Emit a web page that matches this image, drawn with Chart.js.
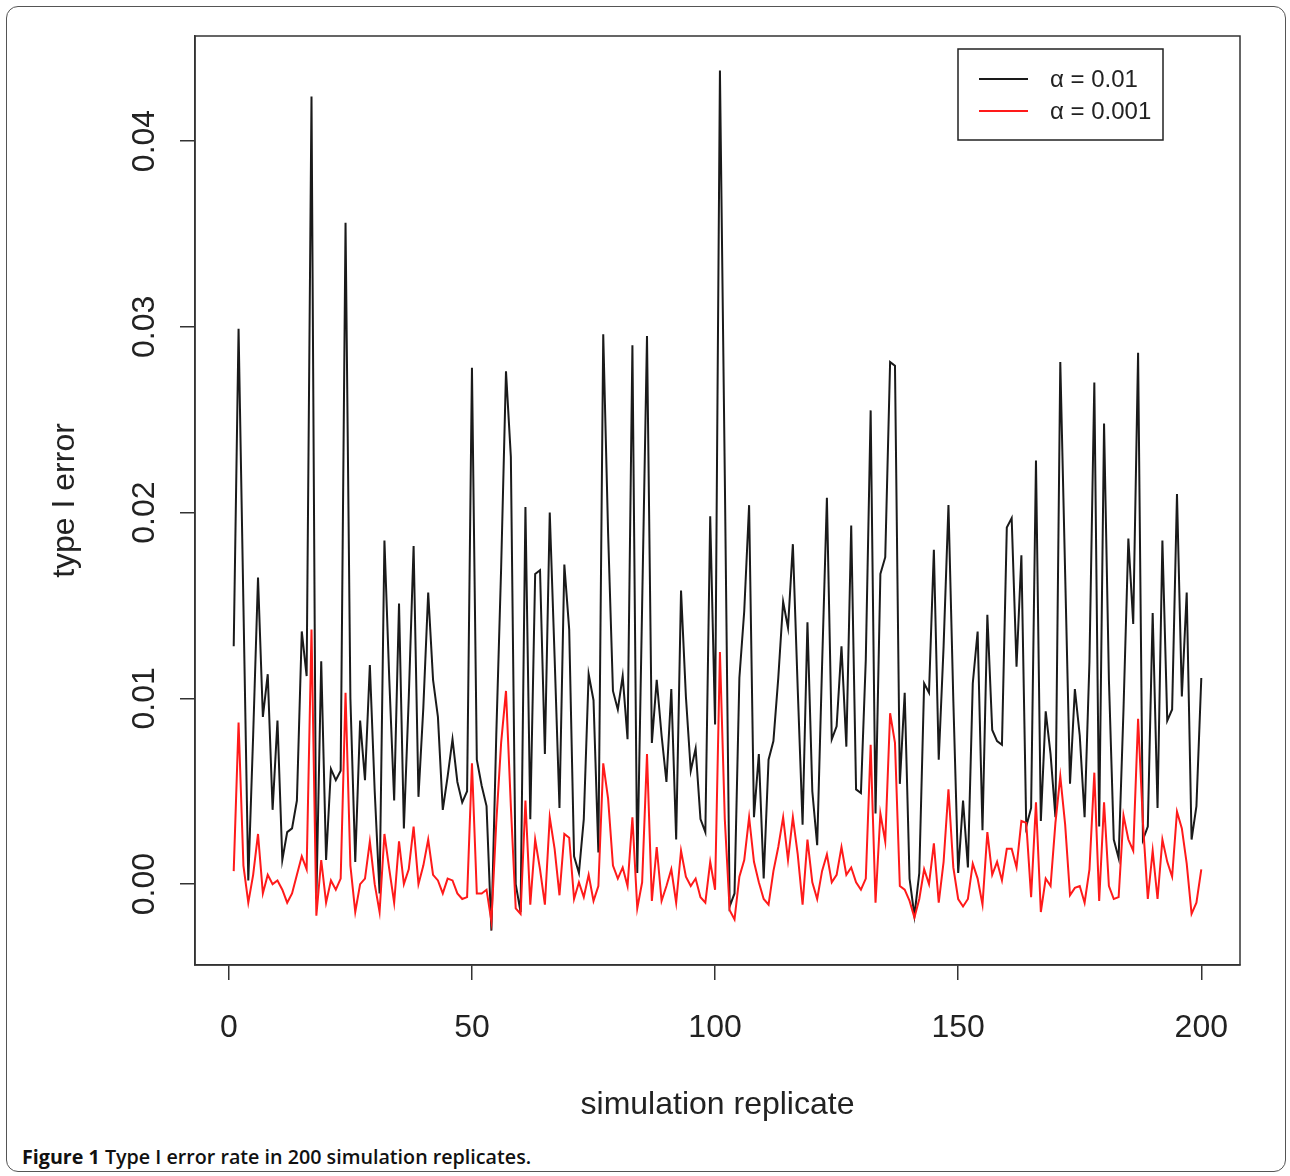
<!DOCTYPE html>
<html>
<head>
<meta charset="utf-8">
<script src="https://cdn.jsdelivr.net/npm/chart.js@4.4.1/dist/chart.umd.min.js"></script>
<style>
  html, body { margin: 0; padding: 0; background: #fff; }
  body { width: 1290px; height: 1176px; position: relative; overflow: hidden; }
  #frame {
    position: absolute; left: 6px; top: 6px; width: 1280px; height: 1166px;
    border: 1.5px solid #555; border-radius: 12px; box-sizing: border-box;
  }
  #wrap { position: absolute; left: 0; top: 0; width: 1290px; height: 1140px; }
  #caption {
    position: absolute; left: 22px; top: 1143px;
    font-family: "Open Sans", "Noto Sans", sans-serif; font-size: 19.7px; font-weight: 600;
    color: #111; white-space: nowrap;
  }
  #caption b { font-weight: 700; }
</style>
</head>
<body>
<div id="frame"></div>
<div id="wrap"><canvas id="chart"></canvas></div>
<div id="caption"><b>Figure 1</b> Type I error rate in 200 simulation replicates.</div>
<script>
// simulation replicate index 1..200
const replicates = Array.from({ length: 200 }, (_, i) => i + 1);

// type I error, alpha = 0.01 (black)
const alpha01 = [
  0.0128, 0.0299, 0.0150, 0.0002, 0.0080, 0.0165, 0.0090, 0.0113, 0.0040, 0.0088,
  0.0013, 0.0028, 0.0030, 0.0045, 0.0136, 0.0112, 0.0424, -0.0008, 0.0120, 0.0013,
  0.0062, 0.0056, 0.0061, 0.0356, 0.0100, 0.0012, 0.0088, 0.0056, 0.0118, 0.0050,
  -0.0005, 0.0185, 0.0110, 0.0045, 0.0151, 0.0030, 0.0100, 0.0182, 0.0047, 0.0095,
  0.0157, 0.0110, 0.0090, 0.0040, 0.0058, 0.0078, 0.0055, 0.0044, 0.0050, 0.0278,
  0.0067, 0.0053, 0.0042, -0.0025, 0.0080, 0.0170, 0.0276, 0.0230, 0.0000, -0.0015,
  0.0203, 0.0035, 0.0167, 0.0169, 0.0070, 0.0200, 0.0122, 0.0041, 0.0172, 0.0137,
  0.0015, 0.0006, 0.0035, 0.0113, 0.0099, 0.0017, 0.0296, 0.0189, 0.0104, 0.0094,
  0.0112, 0.0078, 0.0290, 0.0006, 0.0150, 0.0295, 0.0076, 0.0110, 0.0080, 0.0055,
  0.0105, 0.0024, 0.0158, 0.0101, 0.0061, 0.0073, 0.0035, 0.0028, 0.0198, 0.0086,
  0.0438, 0.0220, -0.0012, -0.0005, 0.0111, 0.0147, 0.0204, 0.0036, 0.0070, 0.0003,
  0.0067, 0.0077, 0.0111, 0.0152, 0.0138, 0.0183, 0.0105, 0.0032, 0.0141, 0.0050,
  0.0021, 0.0117, 0.0208, 0.0078, 0.0085, 0.0128, 0.0074, 0.0193, 0.0051, 0.0049,
  0.0121, 0.0255, 0.0038, 0.0167, 0.0176, 0.0281, 0.0279, 0.0054, 0.0103, 0.0003,
  -0.0017, 0.0006, 0.0108, 0.0103, 0.0180, 0.0067, 0.0128, 0.0204, 0.0099, 0.0006,
  0.0045, 0.0009, 0.0108, 0.0136, 0.0029, 0.0145, 0.0083, 0.0077, 0.0075, 0.0192,
  0.0197, 0.0117, 0.0177, 0.0031, 0.0041, 0.0228, 0.0034, 0.0093, 0.0070, 0.0036,
  0.0281, 0.0167, 0.0054, 0.0105, 0.0080, 0.0036, 0.0120, 0.0270, 0.0031, 0.0248,
  0.0110, 0.0024, 0.0014, 0.0094, 0.0186, 0.0140, 0.0286, 0.0024, 0.0031, 0.0146,
  0.0041, 0.0185, 0.0088, 0.0094, 0.0210, 0.0101, 0.0157, 0.0024, 0.0042, 0.0111
];

// type I error, alpha = 0.001 (red)
const alpha001 = [
  0.0007, 0.0087, 0.0010, -0.0010, 0.0005, 0.0027, -0.0005, 0.0005, 0.0000, 0.0002,
  -0.0003, -0.0010, -0.0005, 0.0005, 0.0015, 0.0008, 0.0137, -0.0017, 0.0013, -0.0010,
  0.0002, -0.0003, 0.0003, 0.0103, 0.0010, -0.0015, 0.0000, 0.0003, 0.0023, 0.0000,
  -0.0015, 0.0027, 0.0008, -0.0010, 0.0023, 0.0000, 0.0008, 0.0031, 0.0000, 0.0010,
  0.0024, 0.0005, 0.0002, -0.0005, 0.0003, 0.0002, -0.0005, -0.0008, -0.0007, 0.0065,
  -0.0005, -0.0005, -0.0003, -0.0020, 0.0033, 0.0076, 0.0104, 0.0042, -0.0013, -0.0016,
  0.0045, -0.0011, 0.0024, 0.0008, -0.0011, 0.0036, 0.0019, -0.0006, 0.0027, 0.0025,
  -0.0008, 0.0001, -0.0007, 0.0005, -0.0009, -0.0001, 0.0065, 0.0046, 0.0010, 0.0003,
  0.0009, -0.0001, 0.0036, -0.0013, 0.0001, 0.0070, -0.0009, 0.0020, -0.0009, -0.0001,
  0.0008, -0.0010, 0.0018, 0.0004, -0.0001, 0.0003, -0.0007, -0.0010, 0.0012, -0.0003,
  0.0125, 0.0035, -0.0014, -0.0019, 0.0004, 0.0013, 0.0036, 0.0012, 0.0001, -0.0008,
  -0.0011, 0.0007, 0.0020, 0.0036, 0.0013, 0.0036, 0.0016, -0.0011, 0.0024, 0.0001,
  -0.0008, 0.0007, 0.0016, 0.0001, 0.0005, 0.0020, 0.0005, 0.0009, 0.0001, -0.0003,
  0.0003, 0.0075, -0.0010, 0.0038, 0.0023, 0.0092, 0.0076, -0.0001, -0.0003, -0.0009,
  -0.0018, -0.0008, 0.0008, 0.0000, 0.0022, -0.0010, 0.0012, 0.0051, 0.0009, -0.0008,
  -0.0012, -0.0008, 0.0011, 0.0003, -0.0011, 0.0028, 0.0005, 0.0012, 0.0002, 0.0019,
  0.0019, 0.0009, 0.0034, 0.0033, -0.0007, 0.0044, -0.0015, 0.0003, -0.0001, 0.0033,
  0.0058, 0.0032, -0.0006, -0.0002, -0.0001, -0.0010, 0.0008, 0.0060, -0.0009, 0.0044,
  -0.0001, -0.0008, -0.0007, 0.0037, 0.0024, 0.0018, 0.0089, 0.0033, -0.0008, 0.0018,
  -0.0008, 0.0024, 0.0012, 0.0004, 0.0039, 0.0030, 0.0011, -0.0016, -0.0010, 0.0008
];

const xTicks = [0, 50, 100, 150, 200];
const yTicks = [0, 0.01, 0.02, 0.03, 0.04];
const seriesLabels = ['\u03b1 = 0.01', '\u03b1 = 0.001'];
const seriesColors = ['#1a1a1a', '#ff1a1a'];

// R style axis ranges: data range widened by 4%
function rRange(values) {
  const lo = Math.min(...values), hi = Math.max(...values);
  const ext = (hi - lo) * 0.04;
  return [lo - ext, hi + ext];
}
const xRange = rRange(replicates);
const yRange = rRange(alpha01.concat(alpha001));

const toPoints = (ys) => ys.map((y, i) => ({ x: replicates[i], y: y }));

const FONT = '"Liberation Sans", Arial, Helvetica, sans-serif';
const INK = '#222';

// box around the plot region plus the legend, drawn the way base R does it
const boxAndLegend = {
  id: 'boxAndLegend',
  afterDraw(chart) {
    const { ctx, chartArea: a } = chart;
    ctx.save();
    ctx.strokeStyle = '#333';
    ctx.lineWidth = 1.5;
    ctx.strokeRect(a.left, a.top, a.right - a.left, a.bottom - a.top);

    // legend
    const lx = 958, ly = 49, lw = 205, lh = 91;
    ctx.fillStyle = '#fff';
    ctx.fillRect(lx, ly, lw, lh);
    ctx.strokeStyle = '#222';
    ctx.lineWidth = 1.5;
    ctx.strokeRect(lx, ly, lw, lh);
    ctx.font = '24px ' + FONT;
    ctx.textBaseline = 'middle';
    ctx.textAlign = 'left';
    seriesLabels.forEach((label, i) => {
      const y = ly + 30 + i * 32;
      ctx.strokeStyle = seriesColors[i];
      ctx.lineWidth = 1.8;
      ctx.beginPath();
      ctx.moveTo(lx + 21, y);
      ctx.lineTo(lx + 70, y);
      ctx.stroke();
      ctx.fillStyle = INK;
      ctx.fillText(label, lx + 92, y + 1);
    });
    ctx.restore();
  }
};

new Chart(document.getElementById('chart'), {
  type: 'line',
  data: {
    datasets: [
      {
        label: seriesLabels[0],
        data: toPoints(alpha01),
        borderColor: seriesColors[0],
        borderWidth: 2,
        pointRadius: 0,
        tension: 0,
        order: 2
      },
      {
        label: seriesLabels[1],
        data: toPoints(alpha001),
        borderColor: seriesColors[1],
        borderWidth: 2,
        pointRadius: 0,
        tension: 0,
        order: 1
      }
    ]
  },
  options: {
    responsive: true,
    maintainAspectRatio: false,
    animation: false,
    devicePixelRatio: 1,
    layout: { padding: { top: 36, right: 50, left: 0, bottom: 0 } },
    plugins: {
      legend: { display: false },
      tooltip: { enabled: false }
    },
    events: [],
    scales: {
      x: {
        type: 'linear',
        min: xRange[0],
        max: xRange[1],
        afterFit: (scale) => { scale.height = 175; },
        afterBuildTicks: (scale) => { scale.ticks = xTicks.map(v => ({ value: v })); },
        grid: { drawOnChartArea: false, drawTicks: true, tickLength: 15, tickColor: '#333', lineWidth: 1.5 },
        border: { display: true, color: '#333', width: 1.5 },
        ticks: {
          autoSkip: false,
          maxRotation: 0,
          padding: 29,
          color: INK,
          font: { family: FONT, size: 32 },
          callback: (v) => String(v)
        },
        title: {
          display: true,
          text: 'simulation replicate',
          color: INK,
          font: { family: FONT, size: 32 },
          padding: { top: 0, bottom: 16 }
        }
      },
      y: {
        type: 'linear',
        min: yRange[0],
        max: yRange[1],
        afterFit: (scale) => { scale.width = 195; },
        afterBuildTicks: (scale) => { scale.ticks = yTicks.map(v => ({ value: v })); },
        grid: { drawOnChartArea: false, drawTicks: true, tickLength: 15, tickColor: '#333', lineWidth: 1.5 },
        border: { display: true, color: '#333', width: 1.5 },
        ticks: {
          autoSkip: false,
          minRotation: 90,
          maxRotation: 90,
          crossAlign: 'center',
          padding: 4,
          color: INK,
          font: { family: FONT, size: 32 },
          callback: (v) => v.toFixed(2)
        },
        title: {
          display: true,
          text: 'type I error',
          color: INK,
          font: { family: FONT, size: 32 },
          padding: { top: 46, bottom: 0 }
        }
      }
    }
  },
  plugins: [boxAndLegend]
});
</script>
</body>
</html>
